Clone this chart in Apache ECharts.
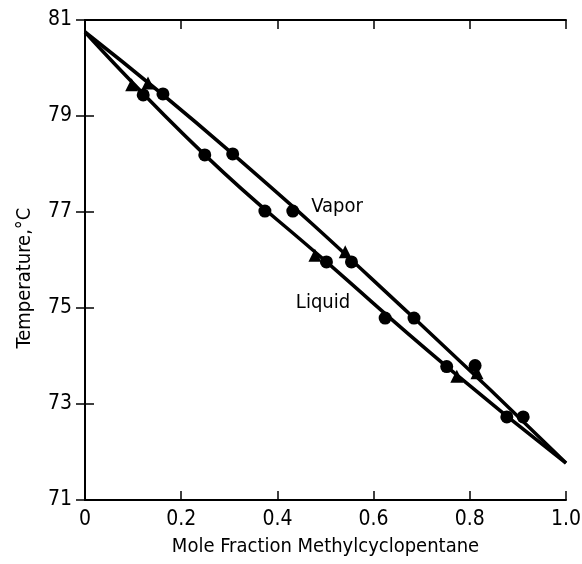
<!DOCTYPE html>
<html>
<head>
<meta charset="utf-8">
<script src="https://cdn.jsdelivr.net/npm/echarts@6/dist/echarts.min.js"></script>
<style>
  html, body { margin: 0; padding: 0; background: #fff; }
  #chart { width: 582px; height: 564px; }
</style>
</head>
<body>
<div id="chart"></div>
<script>
// mole fraction / temperature
const liquidCircX = [0.121, 0.249, 0.374, 0.502, 0.624, 0.752, 0.877]
const liquidCircY = [79.44, 78.19, 77.02, 75.96, 74.79, 73.78, 72.73]
const liquidTriX = [0.097, 0.478, 0.773]
const liquidTriY = [79.65, 76.10, 73.58]

const vaporCircX = [0.162, 0.307, 0.432, 0.554, 0.684, 0.811, 0.911]
const vaporCircY = [79.46, 78.21, 77.02, 75.96, 74.79, 73.80, 72.73]
const vaporTriX = [0.131, 0.541, 0.815]
const vaporTriY = [79.69, 76.17, 73.65]

// points along the drawn curves
const liquidLineX = [0, 0.249, 0.502, 0.752, 1.0]
const liquidLineY = [80.75, 78.19, 75.96, 73.78, 71.77]
const vaporLineX = [0, 0.307, 0.684, 1.0]
const vaporLineY = [80.75, 78.21, 74.79, 71.77]

const xTicks = [0, 0.2, 0.4, 0.6, 0.8, 1.0]
const yTicks = [71, 73, 75, 77, 79, 81]

const font = '"DejaVu Sans Condensed", sans-serif'

function pairs(xs, ys) {
  return xs.map((x, i) => [x, ys[i]])
}

const chart = echarts.init(document.getElementById('chart'))

const lineStyle = { color: '#000', width: 3.5 }
const axisLine = { show: true, lineStyle: { color: '#000', width: 2 } }
const tick = { inside: true, length: 9, lineStyle: { color: '#000', width: 1.5 } }

chart.setOption({
  animation: false,
  grid: { left: 85, right: 16, top: 20, bottom: 64, outerBoundsMode: 'none', containLabel: false },
  xAxis: [
    {
      type: 'value', min: xTicks[0], max: xTicks[xTicks.length - 1], interval: 0.2,
      axisLine: axisLine, axisTick: tick,
      axisLabel: {
        color: '#000', fontFamily: font, fontSize: 21, margin: 9,
        formatter: v => v === 0 ? '0' : v.toFixed(1)
      },
      splitLine: { show: false },
      name: 'Mole Fraction Methylcyclopentane',
      nameLocation: 'middle', nameGap: 37,
      nameTextStyle: { color: '#000', fontFamily: font, fontSize: 20 }
    },
    {
      type: 'value', min: xTicks[0], max: xTicks[xTicks.length - 1], interval: 0.2, position: 'top',
      axisLine: axisLine, axisTick: tick,
      axisLabel: { show: false },
      splitLine: { show: false }
    }
  ],
  yAxis: [
    {
      type: 'value', min: yTicks[0], max: yTicks[yTicks.length - 1], interval: 2,
      axisLine: axisLine, axisTick: tick,
      axisLabel: { color: '#000', fontFamily: font, fontSize: 21, margin: 13 },
      splitLine: { show: false }
    },
    {
      type: 'value', min: yTicks[0], max: yTicks[yTicks.length - 1], interval: 2, position: 'right',
      axisLine: axisLine, axisTick: tick,
      axisLabel: { show: false },
      splitLine: { show: false }
    }
  ],
  series: [
    {
      name: 'Vapor', type: 'line', smooth: true, showSymbol: false,
      data: pairs(vaporLineX, vaporLineY), lineStyle: lineStyle
    },
    {
      name: 'Liquid', type: 'line', smooth: true, showSymbol: false,
      data: pairs(liquidLineX, liquidLineY), lineStyle: lineStyle
    },
    {
      type: 'scatter', symbol: 'circle', symbolSize: 13,
      itemStyle: { color: '#000', opacity: 1 },
      data: pairs(vaporCircX, vaporCircY).concat(pairs(liquidCircX, liquidCircY))
    },
    {
      type: 'scatter', symbol: 'triangle', symbolSize: 13,
      itemStyle: { color: '#000', opacity: 1 },
      data: pairs(vaporTriX, vaporTriY).concat(pairs(liquidTriX, liquidTriY))
    }
  ],
  graphic: [
    {
      type: 'text', x: 25, y: 278, rotation: Math.PI / 2,
      style: { text: 'Temperature,\u00b0C', font: '20px ' + font, fill: '#000', align: 'center', verticalAlign: 'middle' }
    },
    {
      type: 'text', x: 337, y: 207,
      style: { text: 'Vapor', font: '20px ' + font, fill: '#000', align: 'center', verticalAlign: 'middle' }
    },
    {
      type: 'text', x: 323, y: 303,
      style: { text: 'Liquid', font: '20px ' + font, fill: '#000', align: 'center', verticalAlign: 'middle' }
    }
  ]
})
</script>
</body>
</html>
